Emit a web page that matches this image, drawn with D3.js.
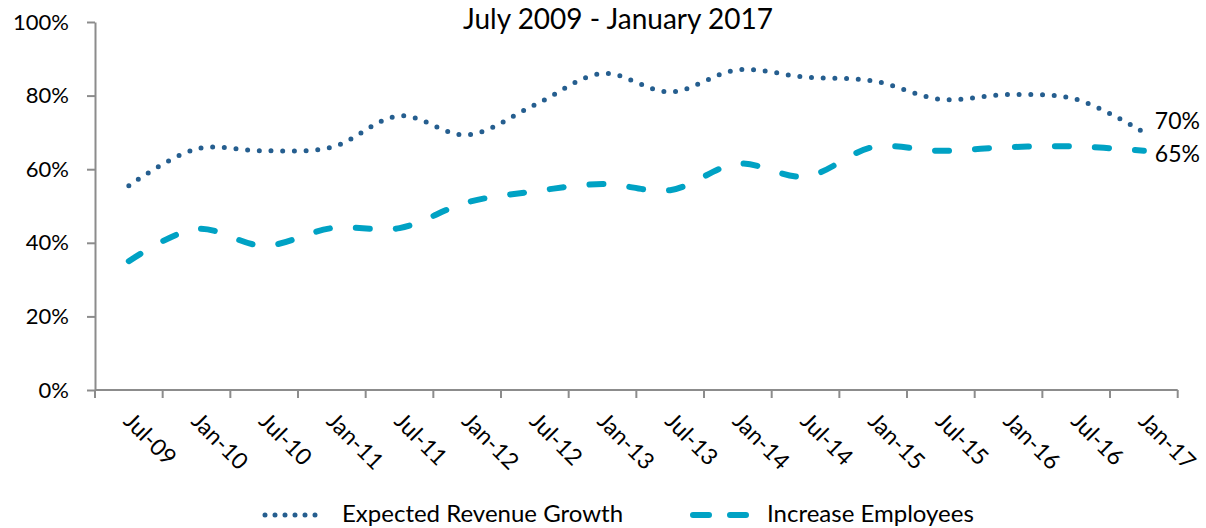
<!DOCTYPE html>
<html>
<head>
<meta charset="utf-8">
<script src="https://cdn.jsdelivr.net/npm/d3@7"></script>
<style>
  html, body { margin: 0; padding: 0; background: #fff; }
  svg { display: block; font-family: Lato, "Open Sans", sans-serif; }
</style>
</head>
<body>
<svg id="chart" width="1206" height="528"></svg>
<script>
// Survey periods
const categories = ["Jul-09","Jan-10","Jul-10","Jan-11","Jul-11","Jan-12","Jul-12","Jan-13",
                    "Jul-13","Jan-14","Jul-14","Jan-15","Jul-15","Jan-16","Jul-16","Jan-17"];
// Share of respondents (%)
const revenueGrowth = [55.5, 65.5, 65, 66, 74.5, 69.3, 77.5, 86, 81, 87, 85, 84, 79, 80.3, 79, 70];
const increaseEmployees = [35, 43.8, 39.2, 44, 44, 51, 54, 56, 54.3, 61.5, 58, 66, 65, 66, 66.2, 65];
const yTicks = [0, 20, 40, 60, 80, 100];
const titleText = "July 2009 - January 2017";
const seriesNames = ["Expected Revenue Growth", "Increase Employees"];

const svg = d3.select("#chart");
const plotLeft = 95, plotRight = 1177.7, plotTop = 22, plotBottom = 390;
const axisColor = "#8c8c8c";
const revColor = "#255e8f";
const empColor = "#00a2c4";

const x = d3.scaleBand().domain(categories).range([plotLeft, plotRight]).padding(0);
const y = d3.scaleLinear().domain([0, 100]).range([plotBottom, plotTop]);
const cx = c => x(c) + x.bandwidth() / 2;

// Title
svg.append("text")
  .attr("x", 618).attr("y", 29)
  .attr("text-anchor", "middle")
  .attr("font-size", 28).attr("fill", "#000")
  .text(titleText);

// Y axis
const yAxis = svg.append("g")
  .attr("transform", `translate(${plotLeft},0)`)
  .call(d3.axisLeft(y).tickValues(yTicks).tickSize(8).tickSizeOuter(0)
        .tickFormat(d => d + "%").tickPadding(18));
yAxis.select(".domain").attr("stroke", axisColor).attr("stroke-width", 2);
yAxis.selectAll(".tick line").attr("stroke", axisColor).attr("stroke-width", 2);
yAxis.selectAll(".tick text").attr("font-size", 22).attr("fill", "#000")
  .attr("font-family", "Lato, sans-serif");

// X axis: baseline with ticks at category boundaries
const xg = svg.append("g");
xg.append("line")
  .attr("x1", plotLeft).attr("x2", plotRight)
  .attr("y1", plotBottom).attr("y2", plotBottom)
  .attr("stroke", axisColor).attr("stroke-width", 2);
const boundaries = categories.map(c => x(c)).concat([x.range()[1]]);
xg.selectAll("line.tick").data(boundaries).join("line")
  .attr("class", "tick")
  .attr("x1", d => d).attr("x2", d => d)
  .attr("y1", plotBottom).attr("y2", plotBottom + 8)
  .attr("stroke", axisColor).attr("stroke-width", 2);
xg.selectAll("text").data(categories).join("text")
  .attr("transform", d => `translate(${cx(d) + 5},${plotBottom + 21}) rotate(45)`)
  .attr("dy", "0.71em")
  .attr("font-size", 23).attr("fill", "#000")
  .text(d => d);

// Series lines (smoothed)
const line = d3.line()
  .x((d, i) => cx(categories[i]))
  .y(d => y(d))
  .curve(d3.curveCatmullRom.alpha(0.5));

svg.append("path")
  .datum(increaseEmployees)
  .attr("d", line)
  .attr("fill", "none")
  .attr("stroke", empColor).attr("stroke-width", 6)
  .attr("stroke-linecap", "round")
  .attr("stroke-dasharray", "14 26");

svg.append("path")
  .datum(revenueGrowth)
  .attr("d", line)
  .attr("fill", "none")
  .attr("stroke", revColor).attr("stroke-width", 5)
  .attr("stroke-linecap", "round")
  .attr("stroke-dasharray", "0 11.7");

// End-point value labels
const lastCat = categories[categories.length - 1];
svg.append("text")
  .attr("x", cx(lastCat) + 11).attr("y", y(revenueGrowth[revenueGrowth.length - 1]) - 3)
  .attr("font-size", 23).attr("fill", "#000")
  .text(revenueGrowth[revenueGrowth.length - 1] + "%");
svg.append("text")
  .attr("x", cx(lastCat) + 11).attr("y", y(increaseEmployees[increaseEmployees.length - 1]) + 11)
  .attr("font-size", 23).attr("fill", "#000")
  .text(increaseEmployees[increaseEmployees.length - 1] + "%");

// Legend
const lg = svg.append("g");
lg.append("line")
  .attr("x1", 265).attr("x2", 325).attr("y1", 515).attr("y2", 515)
  .attr("stroke", revColor).attr("stroke-width", 5)
  .attr("stroke-linecap", "round").attr("stroke-dasharray", "0 10");
lg.append("text")
  .attr("x", 342).attr("y", 522)
  .attr("font-size", 24).attr("fill", "#000")
  .text(seriesNames[0]);
lg.append("line")
  .attr("x1", 693).attr("x2", 750).attr("y1", 515).attr("y2", 515)
  .attr("stroke", empColor).attr("stroke-width", 6)
  .attr("stroke-linecap", "round").attr("stroke-dasharray", "16 21");
lg.append("text")
  .attr("x", 767).attr("y", 522)
  .attr("font-size", 24).attr("fill", "#000")
  .text(seriesNames[1]);
</script>
</body>
</html>
